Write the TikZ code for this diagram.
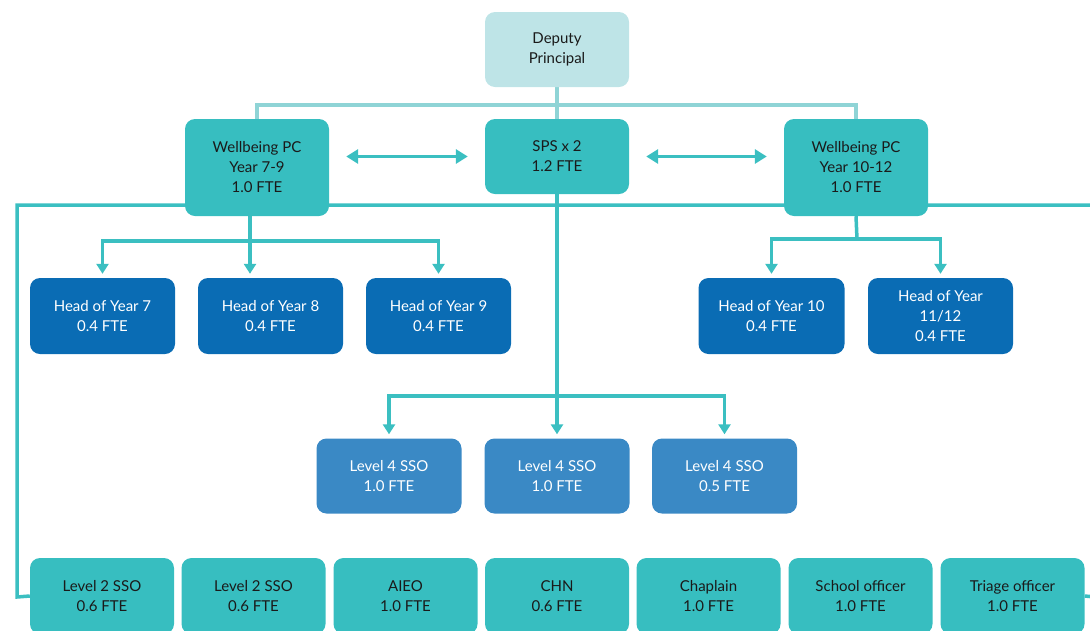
\documentclass[tikz,border=0pt]{standalone}
\usepackage{fontspec}
\setmainfont{Lato}
\usetikzlibrary{arrows.meta}
\definecolor{tealc}{HTML}{37BEC0}
\definecolor{linec}{HTML}{3BBFC1}
\definecolor{toplinec}{HTML}{8FD4D6}
\definecolor{dpfill}{HTML}{BEE4E7}
\definecolor{darkblue}{HTML}{0A6CB4}
\definecolor{midblue}{HTML}{3A89C5}
\definecolor{txtdark}{HTML}{1A1A1A}
\pgfdeclarelayer{bg}
\pgfsetlayers{bg,main}
\begin{document}
\begin{tikzpicture}[x=1pt,y=-1pt,
  box/.style={rounded corners=10pt, minimum width=144pt, minimum height=76pt, inner sep=0pt, align=center, font=\fontsize{15}{20}\selectfont},
  tealbox/.style={box, fill=tealc, text=txtdark},
  dpbox/.style={box, fill=dpfill, text=txtdark, minimum height=75pt},
  darkbox/.style={box, fill=darkblue, text=white},
  midbox/.style={box, fill=midblue, text=white},
  conn/.style={draw=linec, line width=3.5pt},
  topconn/.style={draw=toplinec, line width=3.5pt},
  arr/.style={conn, -{Triangle[width=12pt,length=10pt]}, shorten >=4pt},
  darr/.style={draw=linec, line width=3pt, {Triangle[width=14pt,length=12pt]}-{Triangle[width=14pt,length=12pt]}},
]
\useasboundingbox (0,0) rectangle (1090,630);
\begin{scope}
\clip (0,0) rectangle (1090,630);
% top
\node[dpbox] (dp) at (557,49.5) {Deputy\\Principal};
\node[tealbox, minimum height=97pt] (wpc1) at (257,167.5) {Wellbeing PC\\Year 7-9\\1.0 FTE};
\node[tealbox, minimum height=75pt] (sps) at (557,156.5) {SPS x 2\\1.2 FTE};
\node[tealbox, minimum height=97pt] (wpc2) at (856,167.5) {Wellbeing PC\\Year 10-12\\1.0 FTE};
% heads of year
\node[darkbox, minimum width=145pt] (hoy7) at (102.5,316) {Head of Year 7\\0.4 FTE};
\node[darkbox, minimum width=145pt] (hoy8) at (270.5,316) {Head of Year 8\\0.4 FTE};
\node[darkbox, minimum width=145pt] (hoy9) at (438.5,316) {Head of Year 9\\0.4 FTE};
\node[darkbox, minimum width=146pt] (hoy10) at (771.5,316) {Head of Year 10\\0.4 FTE};
\node[darkbox, minimum width=145pt] (hoy11) at (940.5,316) {Head of Year\\11/12\\0.4 FTE};
% level 4
\node[midbox, minimum width=145pt, minimum height=75pt] (l4a) at (389,476) {Level 4 SSO\\1.0 FTE};
\node[midbox, minimum width=145pt, minimum height=75pt] (l4b) at (557,476) {Level 4 SSO\\1.0 FTE};
\node[midbox, minimum width=145pt, minimum height=75pt] (l4c) at (724.5,476) {Level 4 SSO\\0.5 FTE};
% bottom row
\node[tealbox] (b1) at (102,596) {Level 2 SSO\\0.6 FTE};
\node[tealbox] (b2) at (253.5,596) {Level 2 SSO\\0.6 FTE};
\node[tealbox] (b3) at (405.5,596) {AIEO\\1.0 FTE};
\node[tealbox] (b4) at (557,596) {CHN\\0.6 FTE};
\node[tealbox] (b5) at (708.5,596) {Chaplain\\1.0 FTE};
\node[tealbox] (b6) at (860.5,596) {School officer\\1.0 FTE};
\node[tealbox] (b7) at (1012.5,596) {Triage officer\\1.0 FTE};
% connectors
\coordinate (rtop) at (1095,205);
\coordinate (ltop) at (17,205);
\coordinate (lbot) at (17,597);
\coordinate (rbot) at (1095,597);
\coordinate (j1) at (250,241);
\coordinate (j2) at (857,239);
\coordinate (j3) at (557,396);
\begin{pgfonlayer}{bg}
  \draw[topconn] (dp.south) -- (sps.north);
  \draw[topconn] (wpc1.north) -- ++(0,-14) -| (wpc2.north);
  \draw[conn] (rtop) -- (ltop) -- (lbot) -- (b1.west);
  \draw[conn] (b7.east) -- (rbot);
  \draw[conn] ([xshift=-7pt]wpc1.south) -- (j1);
  \draw[conn] (wpc2.south) -- (j2);
  \draw[conn] (sps.south) -- (j3);
\end{pgfonlayer}
\draw[arr] (j1) -| (hoy7.north);
\draw[arr] (j1) -| (hoy9.north);
\draw[arr] (j1) -- (j1 |- hoy8.north);
\draw[arr] (j2) -| (hoy10.north);
\draw[arr] (j2) -| (hoy11.north);
\draw[arr] (j3) -| (l4a.north);
\draw[arr] (j3) -| (l4c.north);
\draw[arr] (j3) -- (l4b.north);
\draw[darr] ([xshift=17pt]wpc1.east |- sps.west) -- ([xshift=-17pt]sps.west);
\draw[darr] ([xshift=17pt]sps.east) -- ([xshift=-17pt]wpc2.west |- sps.east);
\end{scope}
\end{tikzpicture}
\end{document}
